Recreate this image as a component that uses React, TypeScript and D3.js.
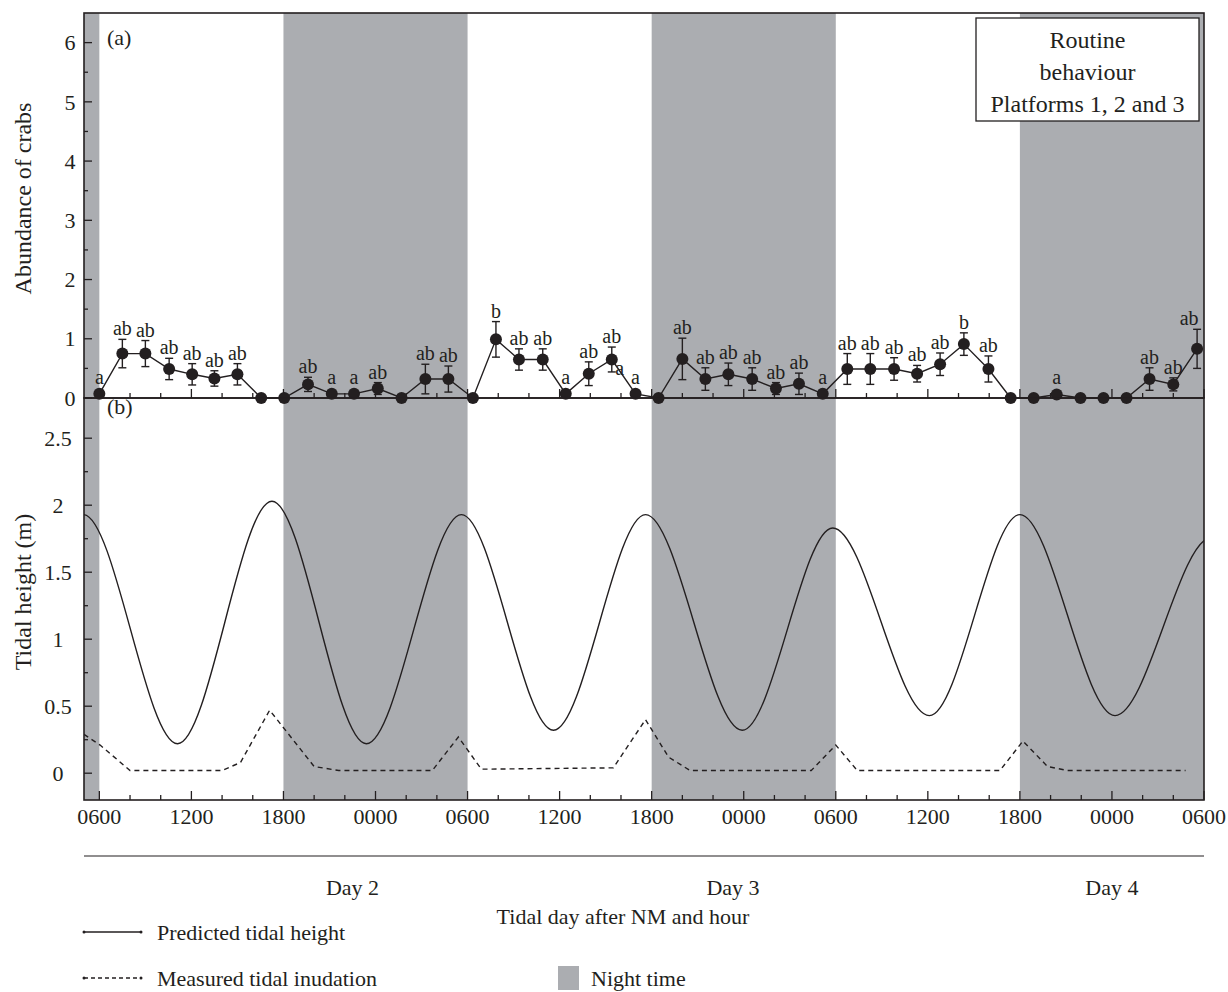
import React from 'react';
import * as d3 from 'd3';

// hours after 0600 on the first day of sampling
const sampleHours = [
  0, 1.5, 3.0, 4.55, 6.05, 7.5, 9.0, 10.55, 12.05, 13.6, 15.15, 16.6, 18.15, 19.7, 21.25, 22.75,
  24.35, 25.85, 27.35, 28.9, 30.4, 31.9, 33.4, 34.95, 36.45, 38.0, 39.5, 41.0, 42.55, 44.1, 45.6, 47.15,
  48.75, 50.25, 51.8, 53.3, 54.8, 56.35, 57.95, 59.4, 60.9, 62.4, 63.95, 65.45, 66.95, 68.45, 70.0, 71.55,
];
const crabMean = [
  0.07, 0.75, 0.75, 0.49, 0.4, 0.33, 0.4, 0, 0, 0.23, 0.07, 0.07, 0.16, 0, 0.32, 0.32,
  0, 0.99, 0.65, 0.65, 0.07, 0.41, 0.65, 0.07, 0, 0.66, 0.32, 0.4, 0.32, 0.16, 0.24, 0.07,
  0.49, 0.49, 0.49, 0.41, 0.57, 0.91, 0.49, 0, 0, 0.06, 0, 0, 0, 0.32, 0.23, 0.83,
];
const crabSE = [
  0, 0.24, 0.22, 0.18, 0.18, 0.13, 0.18, 0, 0, 0.12, 0, 0, 0.1, 0, 0.25, 0.22,
  0, 0.3, 0.18, 0.18, 0, 0.2, 0.21, 0, 0, 0.35, 0.19, 0.19, 0.19, 0.1, 0.18, 0,
  0.26, 0.26, 0.19, 0.14, 0.19, 0.19, 0.22, 0, 0, 0, 0, 0, 0, 0.19, 0.11, 0.33,
];
const crabGroup = [
  'a', 'ab', 'ab', 'ab', 'ab', 'ab', 'ab', '', '', 'ab', 'a', 'a', 'ab', '', 'ab', 'ab',
  '', 'b', 'ab', 'ab', 'a', 'ab', 'ab', 'a', '', 'ab', 'ab', 'ab', 'ab', 'ab', 'ab', 'a',
  'ab', 'ab', 'ab', 'ab', 'ab', 'b', 'ab', '', '', 'a', '', '', '', 'ab', 'ab', 'ab',
];

// predicted tide: successive low and high waters (first and last lie outside the plotted window)
const tideHours = [-7.2, -1.05, 5.1, 11.25, 17.4, 23.6, 29.6, 35.6, 41.9, 47.8, 54.1, 60.0, 66.2, 72.5, 78.7];
const tideHeights = [0.25, 1.93, 0.22, 2.03, 0.22, 1.93, 0.32, 1.93, 0.32, 1.83, 0.43, 1.93, 0.43, 1.76, 0.45];

// measured inundation on the platforms
const inundHours = [
  -1.0, 0.05, 2.0, 8.0, 9.2, 11.1, 14.0, 15.6, 21.7, 23.4, 24.9, 33.5, 35.6, 37.1, 38.5,
  46.4, 48.0, 49.4, 58.7, 60.2, 61.8, 63.1, 70.8,
];
const inundHeights = [
  0.29, 0.21, 0.02, 0.02, 0.08, 0.47, 0.05, 0.02, 0.02, 0.27, 0.03, 0.04, 0.4, 0.12, 0.02,
  0.02, 0.21, 0.02, 0.02, 0.24, 0.05, 0.02, 0.02,
];

const nightStart = [-6, 12, 36, 60];
const nightEnd = [0, 24, 48, 72];

const hourTickLabels = [
  '0600', '1200', '1800', '0000', '0600', '1200', '1800', '0000', '0600', '1200', '1800', '0000', '0600',
];
const dayLabels = ['Day 2', 'Day 3', 'Day 4'];
const dayCentres = [16.5, 41.3, 66.0];

const abundanceTicks = [0, 1, 2, 3, 4, 5, 6];
const tideTicks = [0, 0.5, 1, 1.5, 2, 2.5];

const INK = '#231f20';
const NIGHT = '#abadb1';
const FONT = '"Liberation Serif", "Times New Roman", serif';

export default function App() {
  const left = 84;
  const right = 1204;
  const aTop = 13;
  const aBottom = 398;
  const bTop = 398;
  const bBottom = 800;

  const x = d3.scaleLinear().domain([-1, 72]).range([left, right]);
  const yA = d3.scaleLinear().domain([0, 6.5]).range([aBottom, aTop]);
  const yB = d3.scaleLinear().domain([-0.2, 2.8]).range([bBottom, bTop]);

  const crabs = sampleHours.map((h, i) => ({ h, m: crabMean[i], se: crabSE[i], g: crabGroup[i] }));
  const crabLine = d3
    .line<{ h: number; m: number }>()
    .x((d) => x(d.h))
    .y((d) => yA(d.m));

  const tide = tideHours.map((h, i) => [h, tideHeights[i]] as [number, number]);
  const tideLine = d3
    .line<[number, number]>()
    .x((d) => x(d[0]))
    .y((d) => yB(d[1]))
    .curve(d3.curveMonotoneX);

  const inund = inundHours.map((h, i) => [h, inundHeights[i]] as [number, number]);
  const inundLine = d3
    .line<[number, number]>()
    .x((d) => x(d[0]))
    .y((d) => yB(d[1]));

  const hourTicks = d3.range(0, 73, 2);
  const minorA = d3.range(0, 6.01, 0.5);
  const minorB = d3.range(0, 2.51, 0.25);

  const nights = nightStart.map((s, i) => [Math.max(s, -1), nightEnd[i]]);

  const xTicks = (yBase: number) =>
    hourTicks.map((h) => {
      const major = h % 6 === 0;
      return (
        <line key={h} x1={x(h)} x2={x(h)} y1={yBase} y2={yBase - (major ? 9 : 5)} stroke={INK} strokeWidth={1.3} />
      );
    });

  return (
    <svg
      width={1228}
      height={992}
      style={{ position: 'absolute', left: 0, top: 0, background: '#fff' }}
      fontFamily={FONT}
    >
      <defs>
        <clipPath id="clipB">
          <rect x={left} y={bTop} width={right - left} height={bBottom - bTop} />
        </clipPath>
      </defs>

      {/* night shading, both panels */}
      {nights.map(([s, e], i) => (
        <rect key={i} x={x(s)} y={aTop} width={x(e) - x(s)} height={bBottom - aTop} fill={NIGHT} />
      ))}

      {/* panel (a) */}
      <text x={107} y={45} fontSize={22} fill={INK}>(a)</text>
      {xTicks(aBottom)}
      {minorA.map((v) => (
        <line key={v} x1={left} x2={left + (v % 1 === 0 ? 8 : 4)} y1={yA(v)} y2={yA(v)} stroke={INK} strokeWidth={1.3} />
      ))}
      {abundanceTicks.map((v) => (
        <text key={v} x={70} y={yA(v)} dy="0.35em" textAnchor="middle" fontSize={22} fill={INK}>
          {v}
        </text>
      ))}
      <text
        transform={`translate(23,${(aTop + aBottom) / 2 - 7}) rotate(-90)`}
        textAnchor="middle"
        dy="0.35em"
        fontSize={24}
        fill={INK}
      >
        Abundance of crabs
      </text>

      <path d={crabLine(crabs) ?? ''} fill="none" stroke={INK} strokeWidth={1.4} />
      {crabs.map((d, i) =>
        d.se > 0 ? (
          <g key={i} stroke={INK} strokeWidth={1.4}>
            <line x1={x(d.h)} x2={x(d.h)} y1={yA(d.m + d.se)} y2={yA(Math.max(0, d.m - d.se))} />
            <line x1={x(d.h) - 4} x2={x(d.h) + 4} y1={yA(d.m + d.se)} y2={yA(d.m + d.se)} />
            <line x1={x(d.h) - 4} x2={x(d.h) + 4} y1={yA(Math.max(0, d.m - d.se))} y2={yA(Math.max(0, d.m - d.se))} />
          </g>
        ) : null
      )}
      {crabs.map((d, i) => (
        <circle key={i} cx={x(d.h)} cy={yA(d.m)} r={6} fill={INK} />
      ))}
      {crabs.map((d, i) => {
        if (!d.g) return null;
        const top = Math.min(yA(d.m + d.se), yA(d.m) - 6);
        const last = i === crabs.length - 1;
        return (
          <text
            key={i}
            x={x(d.h) + (last ? -8 : 0)}
            y={top - 4}
            textAnchor="middle"
            fontSize={20}
            fill={INK}
          >
            {d.g}
          </text>
        );
      })}
      {/* stray letter printed beside the 22nd mean in the original */}
      <text x={x(sampleHours[22]) + 8} y={yA(crabMean[22]) + 15} textAnchor="middle" fontSize={20} fill={INK}>
        a
      </text>

      {/* legend box */}
      <rect x={976} y={18} width={223} height={103} fill="#fff" stroke={INK} strokeWidth={1.3} />
      <text x={1087.5} y={48} textAnchor="middle" fontSize={24} fill={INK}>Routine</text>
      <text x={1087.5} y={80} textAnchor="middle" fontSize={24} fill={INK}>behaviour</text>
      <text x={1087.5} y={112} textAnchor="middle" fontSize={24} fill={INK}>Platforms 1, 2 and 3</text>

      {/* panel (b) */}
      <text x={107} y={414} fontSize={22} fill={INK}>(b)</text>
      {xTicks(bBottom)}
      {minorB.map((v) => (
        <line
          key={v}
          x1={left}
          x2={left + (Math.round(v * 100) % 50 === 0 ? 8 : 4)}
          y1={yB(v)}
          y2={yB(v)}
          stroke={INK}
          strokeWidth={1.3}
        />
      ))}
      {tideTicks.map((v) => (
        <text key={v} x={58} y={yB(v)} dy="0.35em" textAnchor="middle" fontSize={22} fill={INK}>
          {v}
        </text>
      ))}
      <text
        transform={`translate(23,${(bTop + bBottom) / 2 - 7}) rotate(-90)`}
        textAnchor="middle"
        dy="0.35em"
        fontSize={24}
        fill={INK}
      >
        Tidal height (m)
      </text>
      <g clipPath="url(#clipB)">
        <path d={tideLine(tide) ?? ''} fill="none" stroke={INK} strokeWidth={1.4} />
        <path d={inundLine(inund) ?? ''} fill="none" stroke={INK} strokeWidth={1.4} strokeDasharray="5,4" />
      </g>

      {/* frames */}
      <rect x={left} y={aTop} width={right - left} height={aBottom - aTop} fill="none" stroke={INK} strokeWidth={1.6} />
      <rect x={left} y={bTop} width={right - left} height={bBottom - bTop} fill="none" stroke={INK} strokeWidth={1.6} />

      {/* hour labels */}
      {hourTickLabels.map((lab, i) => (
        <text key={i} x={x(i * 6)} y={824} textAnchor="middle" fontSize={22} fill={INK}>
          {lab}
        </text>
      ))}

      {/* tidal day band */}
      <line x1={left} x2={right} y1={856} y2={856} stroke={INK} strokeWidth={1.2} />
      {dayLabels.map((lab, i) => (
        <text key={lab} x={x(dayCentres[i])} y={895} textAnchor="middle" fontSize={22} fill={INK}>
          {lab}
        </text>
      ))}
      <text x={623} y={924} textAnchor="middle" fontSize={22} fill={INK}>
        Tidal day after NM and hour
      </text>

      {/* bottom legend */}
      <line x1={84} x2={141} y1={932} y2={932} stroke={INK} strokeWidth={1.3} />
      <circle cx={84} cy={932} r={1.5} fill={INK} />
      <circle cx={141} cy={932} r={1.5} fill={INK} />
      <text x={157} y={940} fontSize={22} fill={INK}>Predicted tidal height</text>
      <line x1={84} x2={141} y1={978} y2={978} stroke={INK} strokeWidth={1.3} strokeDasharray="4,3" />
      <circle cx={84} cy={978} r={1.5} fill={INK} />
      <circle cx={141} cy={978} r={1.5} fill={INK} />
      <text x={157} y={986} fontSize={22} fill={INK}>Measured tidal inudation</text>
      <rect x={558} y={966} width={21} height={24} fill={NIGHT} />
      <text x={591} y={986} fontSize={22} fill={INK}>Night time</text>
    </svg>
  );
}
